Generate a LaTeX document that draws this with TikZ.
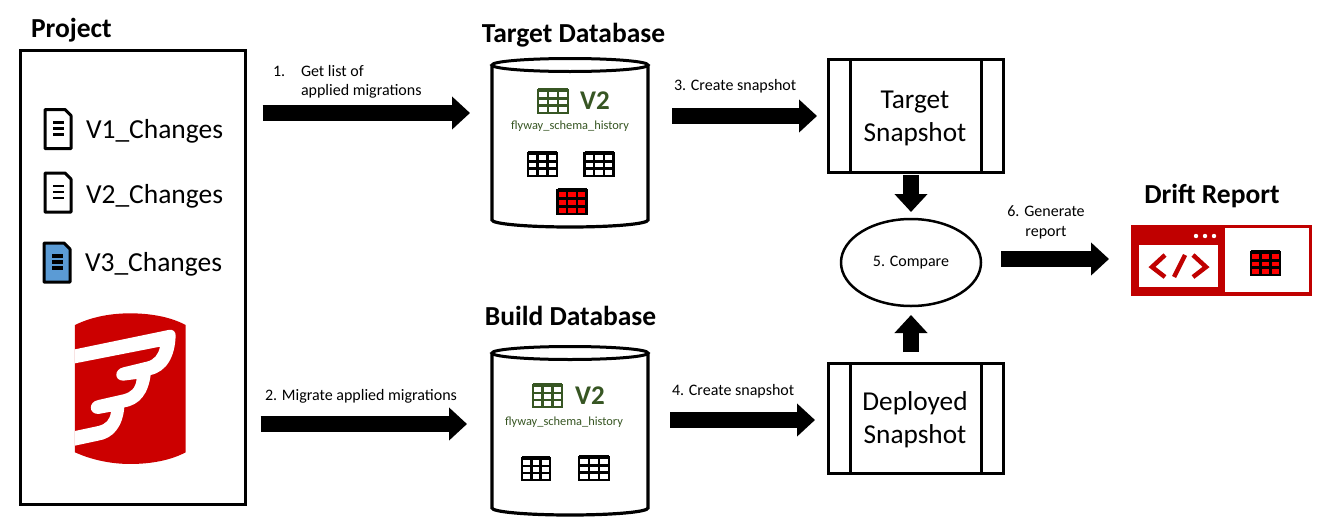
\documentclass[tikz,border=0pt]{standalone}
\usepackage{fontspec}
\setmainfont{Carlito}
\usetikzlibrary{arrows.meta,calc,shapes.geometric}
\definecolor{flyred}{HTML}{CC0000}
\definecolor{drred}{HTML}{C00000}
\definecolor{tgreen}{HTML}{375623}
\definecolor{docblue}{HTML}{5B9BD5}
\tikzset{
  x=1pt,y=-1pt,
  every node/.style={outer sep=0pt,inner sep=0pt},
  boxframe/.style={draw=black,line width=3pt,fill=white},
  anchorbox/.style={rectangle},
  blockarrow/.style={line width=16.5pt,black,-{Triangle[length=18pt,width=32pt]}},
  smalltext/.style={font=\fontsize{16}{20}\selectfont,anchor=west},
  titletext/.style={font=\fontsize{27.5}{32}\selectfont\bfseries},
  filetext/.style={font=\fontsize{27.5}{32}\selectfont,anchor=west},
  snaptext/.style={font=\fontsize{27.3}{33}\selectfont,align=center},
  schematext/.style={font=\fontsize{12.4}{14}\selectfont,text=tgreen},
  vtext/.style={font=\fontsize{27}{32}\selectfont\bfseries,text=tgreen},
}
% x y w h draw fill lw
\newcommand{\tblicon}[7]{%
  \begin{scope}[shift={(#1,#2)}]
    \filldraw[draw=#5,fill=#6,line width=#7pt] (0,0) rectangle (#3,#4);
    \draw[#5,line width=#7pt+0.8pt] (0,0) -- (#3,0);
    \draw[#5,line width=#7pt] (0,#4*0.36) -- (#3,#4*0.36) (0,#4*0.68) -- (#3,#4*0.68)
      (#3*0.33,0) -- (#3*0.33,#4) (#3*0.67,0) -- (#3*0.67,#4);
  \end{scope}}
% x y fill lw
\newcommand{\docicon}[4]{%
  \begin{scope}[shift={(#1,#2)}]
    \filldraw[draw=black,fill=#3,line width=3pt,line join=round] (1,1) -- (21,1) -- (27,7) -- (27,40) -- (1,40) -- cycle;
    \draw[black,line width=#4pt] (9,14) -- (20,14) (9,20) -- (20,20) (9,26) -- (20,26);
  \end{scope}}
% top bottom
\newcommand{\dbshape}[2]{%
  \filldraw[draw=black,line width=3.2pt,fill=white] (492,#1) -- (492,#2) arc[start angle=180,end angle=360,x radius=78,y radius=-7] -- (648,#1);
  \filldraw[draw=black,line width=3pt,fill=white] (570,#1) ellipse[x radius=78,y radius=6.5];}
\begin{document}
\begin{tikzpicture}
\useasboundingbox (0,0) rectangle (1320,525);
\fill[white] (0,0) rectangle (1320,525);
\coordinate (r1) at (0,113);
\coordinate (r2) at (0,424);
\coordinate (r3) at (0,116);
\coordinate (r4) at (0,420);
\coordinate (r6) at (0,259);

% project
\node[boxframe,minimum width=225pt,minimum height=454pt] (project) at (133,277.5) {};
\node[titletext,anchor=west] (tproject) at (31,30) {Project};
\docicon{44}{108.5}{white}{2.5}
\docicon{44}{172}{white}{2.5}
\docicon{43}{242}{docblue}{3.2}
\node[filetext] (f1) at (86,131) {V1\_Changes};
\node[filetext] (f2) at (86,196) {V2\_Changes};
\node[filetext] (f3) at (85,264) {V3\_Changes};

% logo
\begin{scope}[shift={(30,290)},x=0.3333pt,y=-0.3333pt]
  \fill[flyred] (135,105) .. controls (190,78) and (250,70) .. (300,70) .. controls (360,70) and (420,80) .. (467,105)
     -- (467,487) .. controls (420,512) and (360,522) .. (300,522) .. controls (250,522) and (190,512) .. (135,487) -- cycle;
  \fill[white] (135,178) -- (415,120) .. controls (430,117) and (437,125) .. (437,137)
     .. controls (435,200) and (410,245) .. (362,255)
     .. controls (355,310) and (330,345) .. (283,352)
     .. controls (278,410) and (250,445) .. (205,452)
     -- (135,467) -- (135,423) -- (205,408) .. controls (228,402) and (240,390) .. (243,365)
     -- (205,372) .. controls (175,372) and (175,335) .. (205,330)
     -- (280,313) .. controls (303,307) and (317,295) .. (320,267)
     -- (280,272) .. controls (252,272) and (252,238) .. (280,232)
     -- (350,215) .. controls (372,210) and (385,195) .. (390,170)
     -- (135,220) -- cycle;
\end{scope}

% target db
\node[anchorbox,minimum width=156pt,minimum height=169pt] (targetdb) at (570,143) {};
\dbshape{65}{220}
\node[titletext] (ttarget) at (573.5,35) {Target Database};
\tblicon{538}{90}{30}{23}{tgreen}{white}{2.6}
\node[vtext] (v2a) at (595,101) {V2};
\node[schematext] (sch1) at (570,126) {flyway\_schema\_history};
\tblicon{528}{153}{29}{23}{black}{white}{2.6}
\tblicon{584.5}{153}{29}{23}{black}{white}{2.6}
\tblicon{557.5}{190}{29}{24}{black}{red}{2.6}

% build db
\node[anchorbox,minimum width=156pt,minimum height=169pt] (builddb) at (570,431) {};
\dbshape{353}{508}
\node[titletext] (tbuild) at (570.5,316) {Build Database};
\tblicon{533}{385}{29}{22}{tgreen}{white}{2.6}
\node[vtext] (v2b) at (590,396) {V2};
\node[schematext] (sch2) at (564,422) {flyway\_schema\_history};
\tblicon{522}{458}{28}{22}{black}{white}{2.6}
\tblicon{579}{457}{30}{23}{black}{white}{2.6}

% snapshots
\node[boxframe,minimum width=175pt,minimum height=113pt] (tsnap) at (915.5,115.5) {};
\draw[black,line width=3pt] (850,59) -- (850,172) (981,59) -- (981,172);
\node[snaptext] (tsl) at (915,118) {Target\\Snapshot};
\node[boxframe,minimum width=175pt,minimum height=110pt] (dsnap) at (915.5,418) {};
\draw[black,line width=3pt] (850,363) -- (850,473) (981,363) -- (981,473);
\node[snaptext] (dsl) at (915,420) {Deployed\\Snapshot};

% compare
\node[draw=black,line width=2.5pt,fill=white,ellipse,minimum width=140pt,minimum height=87pt,font=\fontsize{16}{18}\selectfont] (compare) at (911,262.5) {5. Compare};

% drift report
\node[anchorbox,fill=drred,minimum width=181pt,minimum height=71pt] (drift) at (1221.5,260.5) {};
\fill[white] (1225,228) rectangle (1309,292);
\fill[white] (1139,245) rectangle (1218,287);
\fill[white] (1196,236) circle[radius=2.2] (1205,236) circle[radius=2.2] (1214,236) circle[radius=2.2];
\draw[drred,line width=4.5pt] (1165,255) -- (1152,267) -- (1165,277) (1185,255) -- (1174,277) (1193,255) -- (1206,267) -- (1193,277);
\tblicon{1251}{252}{29}{23}{black}{red}{2.6}
\node[titletext] (tdrift) at (1212,196) {Drift Report};

% arrows
\draw[blockarrow,shorten <=17pt,shorten >=22pt] (project.east |- r1) -- (targetdb.west |- r1);
\draw[blockarrow,shorten <=15pt,shorten >=25pt] (project.east |- r2) -- (builddb.west |- r2);
\draw[blockarrow,shorten <=24pt,shorten >=11pt] (targetdb.east |- r3) -- (tsnap.west |- r3);
\draw[blockarrow,shorten <=22pt,shorten >=13pt] (builddb.east |- r4) -- (dsnap.west |- r4);
\draw[blockarrow,shorten <=3pt,shorten >=7pt] (compare.north |- tsnap.south) -- (compare.north);
\draw[blockarrow,shorten <=11pt,shorten >=9pt] (compare.south |- dsnap.north) -- (compare.south);
\draw[blockarrow,shorten <=20pt,shorten >=22pt] (compare.east |- r6) -- (drift.west |- r6);

% labels
\node[smalltext] (l1a) at (273,71) {1.};
\node[smalltext] (l1b) at (301,71) {Get list of};
\node[smalltext] (l1c) at (301,91) {applied migrations};
\node[smalltext] (l2) at (265,396.5) {2. Migrate applied migrations};
\node[smalltext] (l3) at (674,86.5) {3. Create snapshot};
\node[smalltext] (l4) at (672,391.5) {4. Create snapshot};
\node[font=\fontsize{16}{20}\selectfont,align=center] (l6) at (1046,222) {6. Generate\\report};
\end{tikzpicture}
\end{document}
